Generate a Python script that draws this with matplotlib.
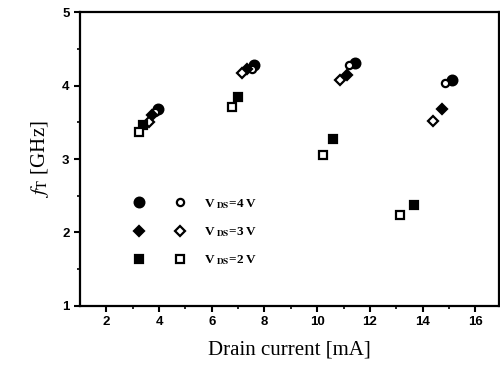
import matplotlib
matplotlib.use('Agg')
import matplotlib.pyplot as plt
from matplotlib.legend_handler import HandlerTuple

plt.rcParams['mathtext.fontset'] = 'stix'

# Drain current [mA] and f_T [GHz] per V_DS, four gate-bias groups each
# filled = one device set, open = other device set
x4_fill = [3.96, 7.62, 11.44, 15.13]
y4_fill = [3.68, 4.28, 4.31, 4.07]
x4_open = [3.86, 7.52, 11.20, 14.84]
y4_open = [3.64, 4.23, 4.28, 4.03]

x3_fill = [3.75, 7.35, 11.14, 14.75]
y3_fill = [3.60, 4.22, 4.14, 3.68]
x3_open = [3.60, 7.16, 10.85, 14.40]
y3_open = [3.51, 4.17, 4.07, 3.52]

x2_fill = [3.39, 7.00, 10.60, 13.69]
y2_fill = [3.46, 3.85, 3.27, 2.38]
x2_open = [3.25, 6.76, 10.21, 13.16]
y2_open = [3.37, 3.71, 3.06, 2.24]

labels = [r'V$_{\ \bf DS}$=4 V', r'V$_{\ \bf DS}$=3 V', r'V$_{\ \bf DS}$=2 V']

fig = plt.figure(figsize=(5.0, 3.69), dpi=100)
ax = fig.add_axes([0.16, 0.171, 0.838, 0.796])

ms = dict(linestyle='none', color='black', markeredgewidth=1.6)
p4f, = ax.plot(x4_fill, y4_fill, marker='o', markersize=7, **ms)
p4o, = ax.plot(x4_open, y4_open, marker='o', markersize=5.2, markerfacecolor='white', **ms)
p3f, = ax.plot(x3_fill, y3_fill, marker='D', markersize=5.5, **ms)
p3o, = ax.plot(x3_open, y3_open, marker='D', markersize=4.8, markerfacecolor='white', **ms)
p2f, = ax.plot(x2_fill, y2_fill, marker='s', markersize=5.5, **ms)
p2o, = ax.plot(x2_open, y2_open, marker='s', markersize=5.2, markerfacecolor='white', **ms)

leg = ax.legend([(p4f, p4o), (p3f, p3o), (p2f, p2o)], labels,
                handler_map={tuple: HandlerTuple(ndivide=None, pad=0)},
                loc='upper left', bbox_to_anchor=(0.092, 0.371), frameon=False,
                borderpad=0, borderaxespad=0, handlelength=6.2, handletextpad=0.3,
                labelspacing=1.1, prop={'family': 'Liberation Serif', 'weight': 'bold', 'size': 9.5})

ax.set_xlim(1, 16.9)
ax.set_ylim(1, 5)
ax.set_xticks([2, 4, 6, 8, 10, 12, 14, 16])
ax.set_xticks(range(3, 17, 2), minor=True)
ax.set_yticks([1, 2, 3, 4, 5])
ax.set_yticks([1.5, 2.5, 3.5, 4.5], minor=True)
ax.tick_params(which='major', direction='out', length=4, width=1.5)
ax.tick_params(which='minor', direction='out', length=2.5, width=1.2)
for lab in ax.get_xticklabels() + ax.get_yticklabels():
    lab.set_fontfamily('Liberation Sans')
    lab.set_fontweight('bold')
    lab.set_fontsize(9.5)
for s in ax.spines.values():
    s.set_linewidth(1.6)

ax.set_xlabel('Drain current [mA]', fontfamily='Liberation Serif', fontsize=15, labelpad=9)
ax.set_ylabel(r'$f_{\rm T}$ [GHz]', fontfamily='Liberation Serif', fontsize=15, labelpad=8)

fig.savefig('out.png', dpi=100)
